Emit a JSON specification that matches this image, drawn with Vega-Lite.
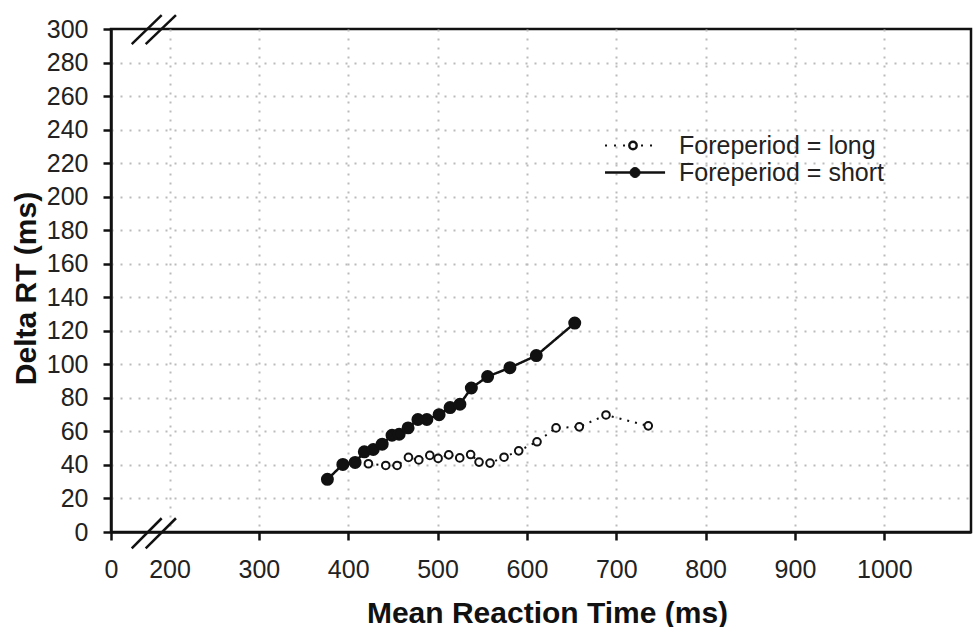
{
  "$schema": "https://vega.github.io/schema/vega-lite/v6.json",
  "width": 860,
  "height": 503,
  "autosize": "none",
  "padding": {"left": 111, "top": 29, "right": 7, "bottom": 95},
  "background": "white",
  "config": {
    "font": "Liberation Sans",
    "view": {"stroke": "#111", "strokeWidth": 2.5},
    "axis": {
      "domainColor": "#111",
      "domainWidth": 2.5,
      "tickColor": "#111",
      "tickWidth": 2.5,
      "tickSize": 8,
      "labelFont": "Liberation Sans",
      "labelFontSize": 25,
      "labelColor": "#222",
      "labelOverlap": false,
      "titleFont": "Liberation Sans",
      "titleFontSize": 30,
      "titleFontWeight": "bold",
      "titleColor": "#111",
      "grid": true,
      "gridColor": "#bbbbbb",
      "gridDash": [2, 7],
      "gridWidth": 2
    },
    "axisY": {"labelOverlap": false}
  },
  "resolve": {"axis": {"x": "independent", "y": "independent"}},
  "data": {
    "values": [
      {"rt": 376.7, "delta": 31.4, "fp": "short"},
      {"rt": 394.0, "delta": 40.3, "fp": "short"},
      {"rt": 407.7, "delta": 41.5, "fp": "short"},
      {"rt": 418.0, "delta": 47.8, "fp": "short"},
      {"rt": 428.0, "delta": 49.2, "fp": "short"},
      {"rt": 438.0, "delta": 52.4, "fp": "short"},
      {"rt": 449.0, "delta": 57.7, "fp": "short"},
      {"rt": 457.0, "delta": 58.3, "fp": "short"},
      {"rt": 467.0, "delta": 62.1, "fp": "short"},
      {"rt": 478.0, "delta": 67.1, "fp": "short"},
      {"rt": 488.0, "delta": 67.1, "fp": "short"},
      {"rt": 501.7, "delta": 70.0, "fp": "short"},
      {"rt": 514.0, "delta": 74.2, "fp": "short"},
      {"rt": 525.0, "delta": 76.2, "fp": "short"},
      {"rt": 537.8, "delta": 85.9, "fp": "short"},
      {"rt": 556.0, "delta": 92.7, "fp": "short"},
      {"rt": 581.0, "delta": 98.0, "fp": "short"},
      {"rt": 610.5, "delta": 105.2, "fp": "short"},
      {"rt": 653.5, "delta": 124.6, "fp": "short"},
      {"rt": 422.6, "delta": 40.7, "fp": "long"},
      {"rt": 442.0, "delta": 39.7, "fp": "long"},
      {"rt": 454.7, "delta": 39.7, "fp": "long"},
      {"rt": 467.4, "delta": 44.5, "fp": "long"},
      {"rt": 479.0, "delta": 43.0, "fp": "long"},
      {"rt": 491.3, "delta": 45.7, "fp": "long"},
      {"rt": 500.6, "delta": 43.9, "fp": "long"},
      {"rt": 512.5, "delta": 46.0, "fp": "long"},
      {"rt": 524.8, "delta": 44.2, "fp": "long"},
      {"rt": 537.0, "delta": 46.2, "fp": "long"},
      {"rt": 546.4, "delta": 41.7, "fp": "long"},
      {"rt": 558.7, "delta": 41.1, "fp": "long"},
      {"rt": 574.4, "delta": 44.6, "fp": "long"},
      {"rt": 590.8, "delta": 48.4, "fp": "long"},
      {"rt": 611.3, "delta": 53.8, "fp": "long"},
      {"rt": 632.6, "delta": 62.1, "fp": "long"},
      {"rt": 658.6, "delta": 62.7, "fp": "long"},
      {"rt": 688.5, "delta": 69.8, "fp": "long"},
      {"rt": 735.8, "delta": 63.3, "fp": "long"}
    ]
  },
  "layer": [
    {
      "mark": {"type": "line", "color": "#111"},
      "encoding": {
        "x": {
          "field": "rt", "type": "quantitative",
          "scale": {"domain": [134.5, 1097], "nice": false, "zero": false},
          "axis": {
            "title": "Mean Reaction Time (ms)",
            "values": [134.5, 200, 300, 400, 500, 600, 700, 800, 900, 1000],
            "format": "d",
            "labelExpr": "datum.value < 150 ? '0' : datum.label",
            "labelFlush": false,
            "labelOverlap": false,
            "labelPadding": 17,
            "titlePadding": 16,
            "titleX": 436,
            "tickOpacity": {"condition": {"test": "datum.value == 200", "value": 0}, "value": 1},
            "gridOpacity": {"condition": {"test": "datum.value < 150", "value": 0}, "value": 1}
          }
        },
        "y": {
          "field": "delta", "type": "quantitative",
          "scale": {"domain": [0, 300], "nice": false},
          "axis": {
            "title": "Delta RT (ms)",
            "values": [0, 20, 40, 60, 80, 100, 120, 140, 160, 180, 200, 220, 240, 260, 280, 300],
            "format": "d",
            "labelOverlap": false,
            "labelBound": false,
            "labelPadding": 15,
            "titlePadding": 5,
            "titleY": 259,
            "gridOpacity": {"condition": {"test": "datum.value == 0 || datum.value == 300", "value": 0}, "value": 1}
          }
        },
        "detail": {"field": "fp", "type": "nominal"},
        "strokeDash": {
          "field": "fp", "type": "nominal",
          "scale": {"domain": ["long", "short"], "range": [[2, 6], [1, 0]]},
          "legend": null
        },
        "strokeWidth": {
          "field": "fp", "type": "nominal",
          "scale": {"type": "ordinal", "domain": ["long", "short"], "range": [2, 2.5]},
          "legend": null
        }
      }
    },
    {
      "mark": {"type": "point", "shape": "circle", "filled": true, "stroke": "#111", "opacity": 1},
      "encoding": {
        "x": {"field": "rt", "type": "quantitative", "axis": null},
        "y": {"field": "delta", "type": "quantitative", "axis": null},
        "fill": {
          "field": "fp", "type": "nominal",
          "scale": {"domain": ["long", "short"], "range": ["white", "#111"]},
          "legend": null
        },
        "size": {
          "field": "fp", "type": "nominal",
          "scale": {"type": "ordinal", "domain": ["long", "short"], "range": [58, 110]},
          "legend": null
        },
        "strokeWidth": {
          "field": "fp", "type": "nominal",
          "scale": {"type": "ordinal", "domain": ["long", "short"], "range": [2.4, 1]},
          "legend": null
        }
      }
    },
    {
      "data": {"values": [{}]},
      "mark": {"type": "rule", "color": "#111", "strokeWidth": 2, "strokeDash": [2, 7]},
      "encoding": {
        "x": {"datum": 687.4, "type": "quantitative", "axis": null},
        "x2": {"datum": 746.7},
        "y": {"datum": 230.5, "type": "quantitative", "axis": null}
      }
    },
    {
      "data": {"values": [{}]},
      "mark": {"type": "point", "shape": "circle", "filled": true, "fill": "white", "stroke": "#111", "strokeWidth": 2.4, "size": 55, "opacity": 1},
      "encoding": {
        "x": {"datum": 718.7, "type": "quantitative", "axis": null},
        "y": {"datum": 230.5, "type": "quantitative", "axis": null}
      }
    },
    {
      "data": {"values": [{}]},
      "mark": {"type": "text", "text": "Foreperiod = long", "align": "left", "baseline": "middle", "font": "Liberation Sans", "fontSize": 25, "color": "#222"},
      "encoding": {
        "x": {"datum": 770.2, "type": "quantitative", "axis": null},
        "y": {"datum": 230.5, "type": "quantitative", "axis": null}
      }
    },
    {
      "data": {"values": [{}]},
      "mark": {"type": "rule", "color": "#111", "strokeWidth": 2.5},
      "encoding": {
        "x": {"datum": 687.4, "type": "quantitative", "axis": null},
        "x2": {"datum": 754.6},
        "y": {"datum": 214.4, "type": "quantitative", "axis": null}
      }
    },
    {
      "data": {"values": [{}]},
      "mark": {"type": "point", "shape": "circle", "filled": true, "fill": "#111", "stroke": "#111", "strokeWidth": 1, "size": 100, "opacity": 1},
      "encoding": {
        "x": {"datum": 721.0, "type": "quantitative", "axis": null},
        "y": {"datum": 214.4, "type": "quantitative", "axis": null}
      }
    },
    {
      "data": {"values": [{}]},
      "mark": {"type": "text", "text": "Foreperiod = short", "align": "left", "baseline": "middle", "font": "Liberation Sans", "fontSize": 25, "color": "#222"},
      "encoding": {
        "x": {"datum": 770.2, "type": "quantitative", "axis": null},
        "y": {"datum": 214.4, "type": "quantitative", "axis": null}
      }
    },
    {
      "data": {"values": [{}]},
      "mark": {"type": "rule", "color": "#111", "strokeWidth": 2.5},
      "encoding": {
        "x": {"datum": 157.7, "type": "quantitative", "axis": null},
        "x2": {"datum": 191.2},
        "y": {"datum": 291.0, "type": "quantitative", "axis": null},
        "y2": {"datum": 308.3}
      }
    },
    {
      "data": {"values": [{}]},
      "mark": {"type": "rule", "color": "#111", "strokeWidth": 2.5},
      "encoding": {
        "x": {"datum": 173.3, "type": "quantitative", "axis": null},
        "x2": {"datum": 207.2},
        "y": {"datum": 291.0, "type": "quantitative", "axis": null},
        "y2": {"datum": 308.3}
      }
    },
    {
      "data": {"values": [{}]},
      "mark": {"type": "rule", "color": "#111", "strokeWidth": 2.5},
      "encoding": {
        "x": {"datum": 157.7, "type": "quantitative", "axis": null},
        "x2": {"datum": 191.2},
        "y": {"datum": -9.7, "type": "quantitative", "axis": null},
        "y2": {"datum": 8.2}
      }
    },
    {
      "data": {"values": [{}]},
      "mark": {"type": "rule", "color": "#111", "strokeWidth": 2.5},
      "encoding": {
        "x": {"datum": 173.3, "type": "quantitative", "axis": null},
        "x2": {"datum": 207.2},
        "y": {"datum": -9.7, "type": "quantitative", "axis": null},
        "y2": {"datum": 8.2}
      }
    }
  ]
}
